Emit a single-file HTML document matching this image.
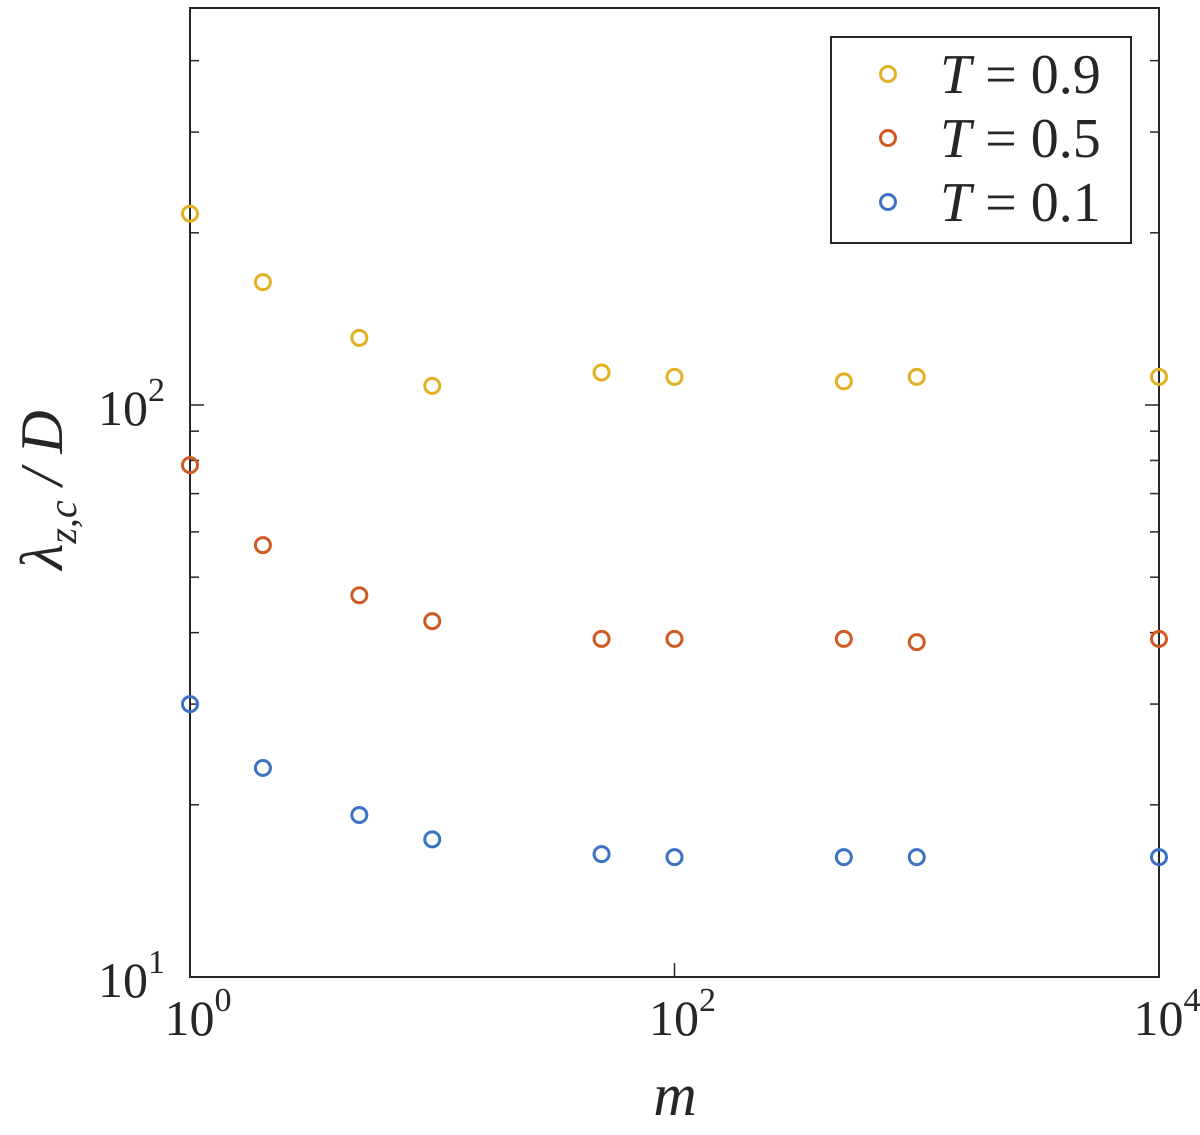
<!DOCTYPE html>
<html><head><meta charset="utf-8"><style>
html,body{margin:0;padding:0;background:#fff;}
svg text{font-family:"Liberation Serif",serif;fill:#262626;}
</style></head><body>
<svg id="chart" width="1200" height="1130" xmlns="http://www.w3.org/2000/svg">
<g id="axes"></g>
<g id="marks"></g>
<g id="legend">
<rect x="831" y="37" width="300" height="206" fill="#fff" stroke="#262626" stroke-width="2"/>
</g>
<text transform="translate(62,490) rotate(-90)" text-anchor="middle" font-size="60" font-style="italic">λ<tspan font-size="40" dy="14">z,c</tspan><tspan dy="-14"> / D</tspan></text>
<text x="675" y="1115" text-anchor="middle" font-size="60" font-style="italic">m</text>
</svg>
<script>
const mValues=[1,2,5,10,50,100,500,1000,10000];
const seriesT09=[216,164,131,108,114,112,110,112,112];
const seriesT05=[78.5,56.9,46.5,41.9,39,39,39,38.5,39];
const seriesT01=[30,23.2,19.2,17.4,16.4,16.2,16.2,16.2,16.2];
const seriesLabels=["T = 0.9","T = 0.5","T = 0.1"];
const xTickExps=[0,2,4];
const yTickExps=[1,2];
const X0=190,X1=1159,Y0=977,DEC=572,YTOP=8;
const NS="http://www.w3.org/2000/svg";
function xs(v){return X0+(X1-X0)*Math.log10(v)/4;}
function ys(v){return Y0-DEC*(Math.log10(v)-1);}
function mk(tag,attrs,parent){const e=document.createElementNS(NS,tag);for(const k in attrs)e.setAttribute(k,attrs[k]);parent.appendChild(e);return e;}
const ax=document.getElementById('axes');
const frame=mk('rect',{x:X0,y:YTOP,width:X1-X0,height:Y0-YTOP,fill:'none',stroke:'#262626','stroke-width':2},ax);


for(let d=1;d<=2;d++){for(let k=1;k<=9;k++){const v=k*Math.pow(10,d);const y=ys(v);if(y<YTOP||y>Y0)continue;
const len=k===1?14:9;
const t1=mk('line',{x1:X0,x2:X0+len,y1:y,y2:y,stroke:'#262626','stroke-width':1.5},ax);


const t2=mk('line',{x1:X1,x2:X1-len,y1:y,y2:y,stroke:'#262626','stroke-width':1.5},ax);

}}
yTickExps.forEach(e=>{const y=ys(Math.pow(10,e));
const t=mk('text',{x:165,y:y+20,'text-anchor':'end','font-size':50},ax);


t.innerHTML='10<tspan font-size="34" dy="-24">'+e+'</tspan>';});
xTickExps.forEach(e=>{const x=xs(Math.pow(10,e));
const t=mk('line',{x1:x,x2:x,y1:Y0,y2:Y0-14,stroke:'#262626','stroke-width':1.5},ax);


const l=mk('text',{x:x+8,y:1035,'text-anchor':'middle','font-size':50},ax);


l.innerHTML='10<tspan font-size="34" dy="-24">'+e+'</tspan>';});
const colors=['#E3B024','#CF5A24','#3B72C4'];
const allSeries=[seriesT09,seriesT05,seriesT01];
const mg=document.getElementById('marks');
allSeries.forEach((s,si)=>{s.forEach((v,i)=>{
const c=mk('circle',{cx:xs(mValues[i]),cy:ys(v),r:7.5,fill:'none',stroke:colors[si],'stroke-width':3},mg);

});});
const lg=document.getElementById('legend');
seriesLabels.forEach((lab,i)=>{const y=74+i*64;
const c=mk('circle',{cx:888,cy:y,r:7.5,fill:'none',stroke:colors[i],'stroke-width':3},lg);


const t=mk('text',{x:940,y:y+19,'font-size':56},lg);


const parts=lab.split(' = ');
t.innerHTML='<tspan font-style="italic">'+parts[0]+'</tspan> = '+parts[1];});
</script>
</body></html>
